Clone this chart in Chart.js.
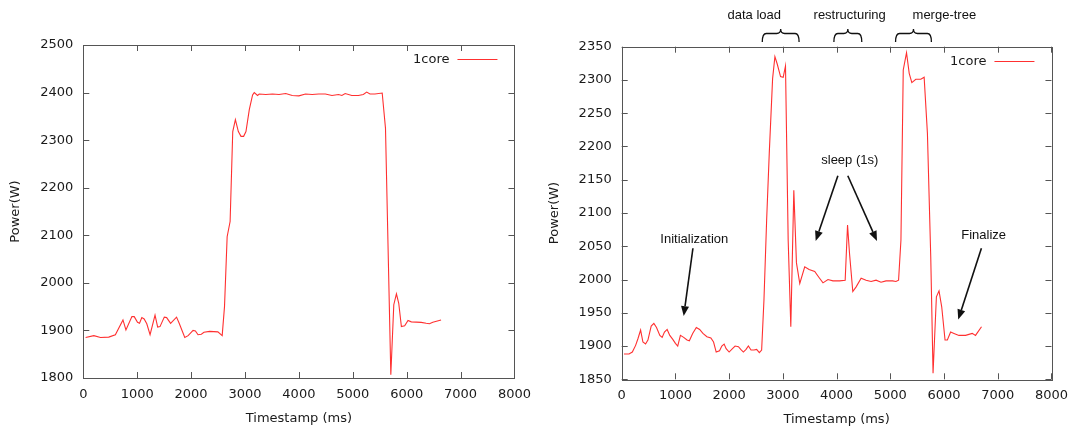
<!DOCTYPE html>
<html><head><meta charset="utf-8">
<script src="https://cdn.jsdelivr.net/npm/chart.js@4/dist/chart.umd.min.js"></script>
<style>
html,body{margin:0;padding:0;background:#fff;}
#wrap{position:relative;width:1077px;height:431px;background:#fff;}
canvas{position:absolute;top:0;}
</style></head><body>
<div id="wrap">
<canvas id="c1" width="540" height="431" style="left:0;width:540px;height:431px"></canvas>
<canvas id="c2" width="537" height="431" style="left:540px;width:537px;height:431px"></canvas>
</div>
<script>
// ---- data ----
const seriesName = '1core';
const xTitle = 'Timestamp (ms)';
const yTitle = 'Power(W)';
const xTicks = [0,1000,2000,3000,4000,5000,6000,7000,8000];
const leftYTicks = [1800,1900,2000,2100,2200,2300,2400,2500];
const rightYTicks = [1850,1900,1950,2000,2050,2100,2150,2200,2250,2300,2350];

const leftTimes = [43,196,319,472,595,736,791,902,945,1006,1043,1086,1129,1178,1239,1331,1380,1423,1503,1546,1620,1730,1779,1883,1945,2037,2080,2129,2190,2239,2344,2497,2577,2620,2669,2724,2773,2822,2877,2926,2975,3018,3080,3141,3172,3233,3264,3387,3509,3632,3755,3877,4000,4123,4245,4368,4491,4614,4736,4798,4859,4982,5104,5196,5258,5319,5411,5546,5607,5706,5761,5810,5853,5902,5963,6025,6086,6270,6362,6423,6485,6638];
const leftPower = [1885,1889,1885,1886,1891,1922,1901,1929,1929,1917,1915,1927,1924,1914,1891,1932,1907,1908,1928,1927,1915,1928,1915,1885,1889,1900,1899,1891,1892,1896,1898,1897,1889,1950,2097,2129,2318,2343,2318,2308,2308,2318,2364,2395,2400,2394,2397,2396,2397,2396,2398,2394,2393,2397,2396,2397,2397,2394,2396,2394,2398,2394,2394,2396,2401,2397,2397,2399,2325,1807,1954,1977,1957,1908,1910,1921,1918,1917,1915,1914,1917,1922];

const rightTimes = [43,136,198,259,302,352,395,444,488,549,599,648,710,753,796,846,895,951,1000,1043,1093,1154,1216,1259,1321,1389,1451,1512,1586,1660,1710,1759,1821,1864,1907,1944,2000,2062,2111,2173,2216,2265,2315,2358,2407,2463,2512,2562,2605,2648,2698,2747,2809,2852,2895,2957,3006,3049,3099,3148,3204,3253,3315,3407,3488,3593,3673,3747,3840,3932,4056,4160,4204,4241,4302,4364,4457,4549,4642,4735,4827,4920,5043,5105,5154,5198,5241,5302,5352,5401,5475,5568,5630,5691,5753,5796,5858,5907,5957,6019,6062,6123,6185,6278,6401,6525,6586,6698];
const rightPower = [1888,1888,1891,1901,1911,1924,1906,1903,1909,1930,1934,1928,1916,1913,1921,1925,1916,1910,1904,1900,1916,1913,1909,1908,1919,1928,1925,1919,1914,1912,1906,1891,1893,1900,1903,1896,1891,1896,1900,1899,1895,1891,1895,1900,1894,1894,1895,1890,1894,1969,2089,2190,2302,2335,2324,2305,2304,2321,2059,1929,2134,2025,1994,2019,2015,2012,2003,1995,2000,1998,1998,1999,2082,2039,1982,1989,2002,1999,1997,1999,1996,1998,1998,1997,1999,2059,2315,2341,2310,2296,2301,2301,2304,2220,2034,1859,1974,1983,1959,1909,1909,1921,1919,1916,1916,1919,1916,1929];

// phase braces above the right chart (x range in ms)
const phaseLabels = ['data load','restructuring','merge-tree'];
const phaseLabelX = [2468,4244,6006];
const phaseStart = [2617,3950,5098];
const phaseEnd = [3302,4469,5765];

// annotations in the right chart (data coordinates)
const noteTexts = ['Initialization','sleep (1s)','Finalize'];
const noteX = [1352,4246,6737];
const noteY = [2061,2179,2067];
// arrows: [fromX, fromY, toX, toY]
const arrowsData = [[1326,2047,1154,1945],[4024,2156,3611,2058],[4209,2156,4752,2058],[6696,2047,6265,1940]];

// ---- styles ----
const LINE = '#ff3030';
const FRAME = '#555';
const TXT = '#1a1a1a';
const TICKFONT = {family:'DejaVu Sans', size:13};
const NOTEFONT = '13px "Liberation Sans", Arial, sans-serif';

const framePlugin = {
  id:'frame',
  afterDraw(chart){
    const {ctx, chartArea:a, scales:{x,y}} = chart;
    ctx.save();
    ctx.strokeStyle = FRAME; ctx.lineWidth = 1;
    ctx.strokeRect(Math.round(a.left)+0.5, Math.round(a.top)+0.5, Math.round(a.right-a.left), Math.round(a.bottom-a.top));
    ctx.beginPath();
    const L = 6;
    x.ticks.forEach(t=>{
      const px = Math.round(x.getPixelForValue(t.value))+0.5;
      ctx.moveTo(px, a.bottom); ctx.lineTo(px, a.bottom-L);
      ctx.moveTo(px, a.top); ctx.lineTo(px, a.top+L);
    });
    y.ticks.forEach(t=>{
      const py = Math.round(y.getPixelForValue(t.value))+0.5;
      ctx.moveTo(a.left, py); ctx.lineTo(a.left+L, py);
      ctx.moveTo(a.right, py); ctx.lineTo(a.right-L, py);
    });
    ctx.stroke();
    // legend
    const ly = Math.round(a.top + 14) + 0.5;
    ctx.fillStyle = TXT;
    ctx.font = '13px "DejaVu Sans"';
    ctx.textAlign = 'right'; ctx.textBaseline = 'middle';
    ctx.fillText(seriesName, a.right - 65, ly);
    ctx.strokeStyle = LINE; ctx.lineWidth = 1;
    ctx.beginPath(); ctx.moveTo(a.right - 57, ly); ctx.lineTo(a.right - 17, ly); ctx.stroke();
    ctx.restore();
  }
};

function drawArrow(ctx, x1, y1, x2, y2){
  const ang = Math.atan2(y2-y1, x2-x1);
  const hl = 10, hw = 4;
  const bx = x2 - hl*Math.cos(ang), by = y2 - hl*Math.sin(ang);
  ctx.beginPath(); ctx.moveTo(x1,y1); ctx.lineTo(bx,by); ctx.stroke();
  ctx.beginPath();
  ctx.moveTo(x2,y2);
  ctx.lineTo(bx + hw*Math.sin(ang), by - hw*Math.cos(ang));
  ctx.lineTo(bx - hw*Math.sin(ang), by + hw*Math.cos(ang));
  ctx.closePath(); ctx.fill();
}

function drawBrace(ctx, x1, x2, yEnd, yBar, yPeak){
  const m = (x1+x2)/2, r = 4;
  ctx.beginPath();
  ctx.moveTo(x1, yEnd);
  ctx.quadraticCurveTo(x1, yBar, x1+r, yBar);
  ctx.lineTo(m-r, yBar);
  ctx.quadraticCurveTo(m, yBar, m, yPeak);
  ctx.quadraticCurveTo(m, yBar, m+r, yBar);
  ctx.lineTo(x2-r, yBar);
  ctx.quadraticCurveTo(x2, yBar, x2, yEnd);
  ctx.stroke();
}

const notesPlugin = {
  id:'notes',
  afterDraw(chart){
    const {ctx, scales:{x,y}} = chart;
    ctx.save();
    ctx.fillStyle = '#111'; ctx.strokeStyle = '#111';
    ctx.font = NOTEFONT; ctx.textAlign = 'center'; ctx.textBaseline = 'middle';
    phaseLabels.forEach((s,i)=>{
      ctx.fillText(s, x.getPixelForValue(phaseLabelX[i]), 15);
      ctx.lineWidth = 1.3;
      drawBrace(ctx, x.getPixelForValue(phaseStart[i]), x.getPixelForValue(phaseEnd[i]), 42, 33.5, 29);
    });
    noteTexts.forEach((s,i)=>{
      ctx.fillText(s, x.getPixelForValue(noteX[i]), y.getPixelForValue(noteY[i]));
    });
    ctx.lineWidth = 1.6;
    arrowsData.forEach(a=>{
      drawArrow(ctx, x.getPixelForValue(a[0]), y.getPixelForValue(a[1]), x.getPixelForValue(a[2]), y.getPixelForValue(a[3]));
    });
    ctx.restore();
  }
};

function makeChart(id, times, power, yTicks, g, extra){
  const pts = times.map((t,i)=>({x:t, y:power[i]}));
  return new Chart(document.getElementById(id), {
    type:'line',
    data:{datasets:[{label:seriesName, data:pts, borderColor:LINE, borderWidth:1.1, pointRadius:0, tension:0, fill:false}]},
    options:{
      responsive:false, animation:false, devicePixelRatio:1,
      layout:{padding:{left:0, right:g.padR, top:g.padT, bottom:0}},
      plugins:{legend:{display:false}, tooltip:{enabled:false}},
      scales:{
        x:{type:'linear', min:xTicks[0], max:xTicks[xTicks.length-1],
           afterBuildTicks:s=>{s.ticks = xTicks.map(v=>({value:v}));},
           afterFit:s=>{s.height = g.xH;},
           grid:{display:false, drawTicks:false}, border:{display:false},
           ticks:{padding:g.xPad, color:TXT, font:TICKFONT, maxRotation:0, autoSkip:false, callback:v=>String(v)},
           title:{display:true, text:xTitle, color:TXT, font:TICKFONT, padding:{top:0, bottom:g.xtPad}}},
        y:{type:'linear', min:yTicks[0], max:yTicks[yTicks.length-1],
           afterBuildTicks:s=>{s.ticks = yTicks.map(v=>({value:v}));},
           afterFit:s=>{s.width = g.yW;},
           grid:{display:false, drawTicks:false}, border:{display:false},
           ticks:{padding:10, color:TXT, font:TICKFONT, autoSkip:false, callback:v=>String(v)},
           title:{display:true, text:yTitle, color:TXT, font:TICKFONT, padding:{top:g.ytPad, bottom:0}}}
      }
    },
    plugins: extra ? [framePlugin, extra] : [framePlugin]
  });
}

makeChart('c1', leftTimes, leftPower, leftYTicks, {padR:24.7, padT:45, xH:53, yW:83.3, xPad:9, xtPad:4.5, ytPad:8.2});
makeChart('c2', rightTimes, rightPower, rightYTicks, {padR:23.7, padT:46.7, xH:51.7, yW:81.7, xPad:9, xtPad:3.5, ytPad:7.2}, notesPlugin);
</script>
</body></html>
